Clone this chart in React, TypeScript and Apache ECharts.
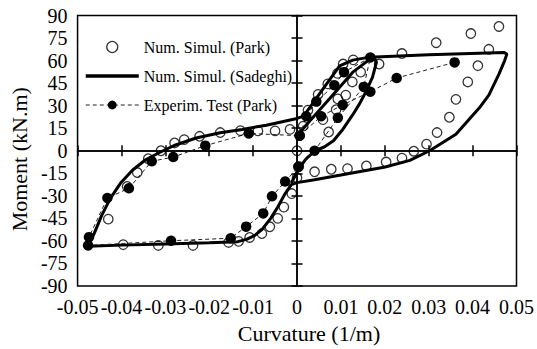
import { useEffect, useRef } from "react";
import * as echarts from "echarts";

// Axis ranges and tick steps
const xMin = -0.05;
const xMax = 0.05;
const xStep = 0.01;
const yMin = -90;
const yMax = 90;
const yStep = 15;

const seriesNames = ["Num. Simul. (Park)", "Num. Simul. (Sadeghi)", "Experim. Test (Park)"];

// Numerical simulation (Park) - hollow markers, [curvature, moment]
const parkNumeric: [number, number][] = [
  [0.0239, 64.7], [0.0317, 71.9], [0.0396, 78.0], [0.046, 82.7],
  [0.0437, 67.5], [0.0412, 56.6], [0.0389, 45.8], [0.0362, 34.2], [0.0347, 22.3],
  [0.0319, 12.1], [0.0295, 4.4], [0.0266, -0.3], [0.0239, -4.9], [0.0203, -7.5],
  [0.0158, -10.1], [0.0115, -11.9], [0.0078, -12.3], [0.004, -14.0], [0.0, -18.0],
  [0.0004, -10.5], [0.0, 0.0],
  [-0.0012, -28.5], [-0.003, -37.5], [-0.0044, -45.0], [-0.0062, -50.6], [-0.008, -55.1],
  [-0.0108, -57.7], [-0.0133, -60.3], [-0.0156, -61.0],
  [-0.0237, -63.0], [-0.0316, -63.0], [-0.0396, -62.5],
  [-0.043, -45.5], [-0.0387, -23.8], [-0.0364, -14.5], [-0.0339, -5.3], [-0.031, 0.0],
  [-0.0279, 5.2], [-0.0257, 7.4], [-0.0222, 9.6], [-0.0175, 12.1], [-0.0129, 13.4],
  [-0.0089, 13.2], [-0.005, 13.2], [-0.0016, 14.2], [0.0014, 16.4],
  [0.0025, 27.0], [0.0048, 37.5], [0.007, 44.5], [0.0092, 51.5], [0.0105, 57.7],
  [0.0128, 60.5], [0.0145, 52.3], [0.0187, 57.7], [0.0126, 45.8], [0.0111, 37.0],
  [0.0093, 34.5], [0.0089, 27.3], [0.0059, 20.7], [0.0072, 12.5],
];

// Numerical simulation (Sadeghi) - outer hysteresis loop
const sadeghiOuter: [number, number][] = [
  [-0.0476, -63.5], [-0.0462, -55.0], [-0.0445, -43.0], [-0.0425, -31.5], [-0.0402, -21.5],
  [-0.0375, -13.0], [-0.0345, -6.0], [-0.0312, -1.0], [-0.028, 3.5], [-0.023, 8.5],
  [-0.0175, 12.0], [-0.0125, 14.2], [-0.007, 17.0], [0.0, 21.5],
  [0.0015, 23.0], [0.0056, 39.8], [0.0097, 56.4], [0.0127, 60.3], [0.0165, 62.3],
  [0.03, 63.8], [0.0472, 65.4], [0.0478, 64.3],
  [0.0473, 60.0], [0.046, 51.0], [0.0437, 37.0], [0.0415, 28.4], [0.0362, 11.0],
  [0.0302, 0.0], [0.0257, -6.4], [0.0201, -10.8], [0.01, -16.2], [0.004, -19.3],
  [0.0, -21.2], [-0.0013, -22.5],
  [-0.0027, -28.5], [-0.0045, -38.0], [-0.006, -45.0], [-0.008, -52.5], [-0.0097, -56.5],
  [-0.0115, -59.0], [-0.0135, -60.5],
  [-0.02, -61.2], [-0.03, -62.0], [-0.04, -62.8], [-0.0476, -63.5],
];

// Sadeghi - reloading branch of the small cycle
const sadeghiReload: [number, number][] = [
  [0.0003, 11.0], [0.0022, 17.5], [0.0075, 35.0], [0.0127, 52.3], [0.0155, 58.5], [0.0172, 62.1],
];

// Sadeghi - unloading branch of the small cycle
const sadeghiUnload: [number, number][] = [
  [0.0175, 62.4], [0.0181, 59.0], [0.0172, 49.0], [0.0157, 39.3], [0.0142, 31.0],
  [0.0127, 24.0], [0.0105, 14.5], [0.0083, 6.7], [0.0062, 2.5], [0.0041, 0.0],
  [0.002, -5.5], [0.0004, -12.0], [-0.0013, -21.5],
];

// Experimental test (Park) in loading order
const experimental: [number, number][] = [
  [0.0006, 10.0], [0.0021, 23.0], [0.0044, 32.7], [0.0085, 43.6], [0.0107, 52.3], [0.0167, 62.1],
  [0.0152, 42.5], [0.0093, 21.9], [0.004, 0.0], [0.0003, -10.8], [-0.0027, -20.5],
  [-0.0057, -30.3], [-0.0077, -41.7], [-0.0116, -50.5], [-0.0151, -58.2],
  [-0.0287, -59.9], [-0.0476, -63.0], [-0.0474, -57.5], [-0.0432, -31.4], [-0.0383, -25.0],
  [-0.0331, -7.0], [-0.0282, -4.2], [-0.0209, 3.4], [-0.011, 11.5], [0.0006, 10.0],
  [0.0055, 23.0], [0.0104, 30.5], [0.0167, 39.3], [0.0227, 48.4], [0.0359, 58.8],
];

const FONT = "Liberation Serif";

const fmtX = (v: number) => (Math.abs(v) < 1e-9 ? "0" : v.toFixed(2));

export default function App() {
  const ref = useRef<HTMLDivElement>(null);

  useEffect(() => {
    if (!ref.current) return;
    const chart = echarts.init(ref.current, undefined, { renderer: "svg" });

    const axisBase = (min: number, max: number, interval: number) => ({
      type: "value" as const,
      min,
      max,
      interval,
      splitLine: { show: false },
    });

    const crossAxis = (min: number, max: number, interval: number, position: string, inside: boolean) => ({
      ...axisBase(min, max, interval),
      position,
      axisLine: { show: true, onZero: true, onZeroAxisIndex: 0, lineStyle: { color: "#000", width: 1.5 } },
      axisTick: { show: true, inside, length: 5.5, lineStyle: { color: "#000", width: 1.5 } },
      axisLabel: { show: false },
    });

    const sadeghiLine = (data: [number, number][]) => ({
      name: seriesNames[1],
      type: "line" as const,
      data,
      symbol: "none",
      lineStyle: { color: "#000", width: 3 },
      itemStyle: { color: "#000" },
      z: 2,
    });

    chart.setOption({
      animation: false,
      textStyle: { fontFamily: FONT },
      grid: {
        left: 72.5,
        right: 19.5,
        top: 15.5,
        bottom: 57.5,
        show: true,
        borderColor: "#000",
        borderWidth: 1.5,
        backgroundColor: "transparent",
      },
      legend: {
        orient: "vertical",
        left: 79,
        top: 34,
        itemWidth: 53,
        itemHeight: 11,
        itemGap: 13,
        selectedMode: false,
        textStyle: { fontFamily: FONT, fontSize: 16, color: "#000", lineHeight: 16 },
        data: [
          {
            name: seriesNames[0],
            icon: "circle",
            itemStyle: { color: "rgba(255,255,255,0)", borderColor: "#000", borderWidth: 1.3 },
          },
          {
            name: seriesNames[1],
            lineStyle: { width: 3.5, color: "#000" },
            itemStyle: { opacity: 0 },
          },
          { name: seriesNames[2], lineStyle: { width: 1, color: "#222", type: [4, 3] } },
        ],
      },
      xAxis: [
        {
          ...axisBase(xMin, xMax, xStep),
          position: "bottom",
          axisLine: { show: false, onZero: false },
          axisTick: { show: false },
          axisLabel: { fontFamily: FONT, fontSize: 20, color: "#000", margin: 11, formatter: fmtX },
          name: "Curvature (1/m)",
          nameLocation: "middle",
          nameGap: 36,
          nameTextStyle: { fontFamily: FONT, fontSize: 22, color: "#000", padding: [0, 0, 0, 24] },
        },
        crossAxis(xMin, xMax, xStep, "bottom", true),
        crossAxis(xMin, xMax, xStep, "bottom", false),
      ],
      yAxis: [
        {
          ...axisBase(yMin, yMax, yStep),
          position: "left",
          axisLine: { show: false, onZero: false },
          axisTick: { show: false },
          axisLabel: { fontFamily: FONT, fontSize: 20, color: "#000", margin: 10 },
          name: "Moment (kN.m)",
          nameLocation: "middle",
          nameGap: 42,
          nameTextStyle: { fontFamily: FONT, fontSize: 22, color: "#000", padding: [0, 17, 0, 0] },
        },
        crossAxis(yMin, yMax, yStep, "left", true),
        crossAxis(yMin, yMax, yStep, "left", false),
      ],
      series: [
        sadeghiLine(sadeghiOuter),
        sadeghiLine(sadeghiReload),
        sadeghiLine(sadeghiUnload),
        {
          name: seriesNames[2],
          type: "line",
          data: experimental,
          symbol: "circle",
          symbolSize: 10.5,
          itemStyle: { color: "#000" },
          lineStyle: { color: "#222", width: 1, type: [4, 3] },
          z: 3,
        },
        {
          name: seriesNames[0],
          type: "scatter",
          data: parkNumeric,
          symbol: "circle",
          symbolSize: 9.5,
          itemStyle: { color: "rgba(255,255,255,0)", borderColor: "#000", borderWidth: 1.3 },
          z: 4,
        },
      ],
    });

    return () => chart.dispose();
  }, []);

  return (
    <div
      ref={ref}
      style={{ position: "fixed", left: 0, top: 0, width: 537, height: 349, background: "#fff" }}
    />
  );
}
